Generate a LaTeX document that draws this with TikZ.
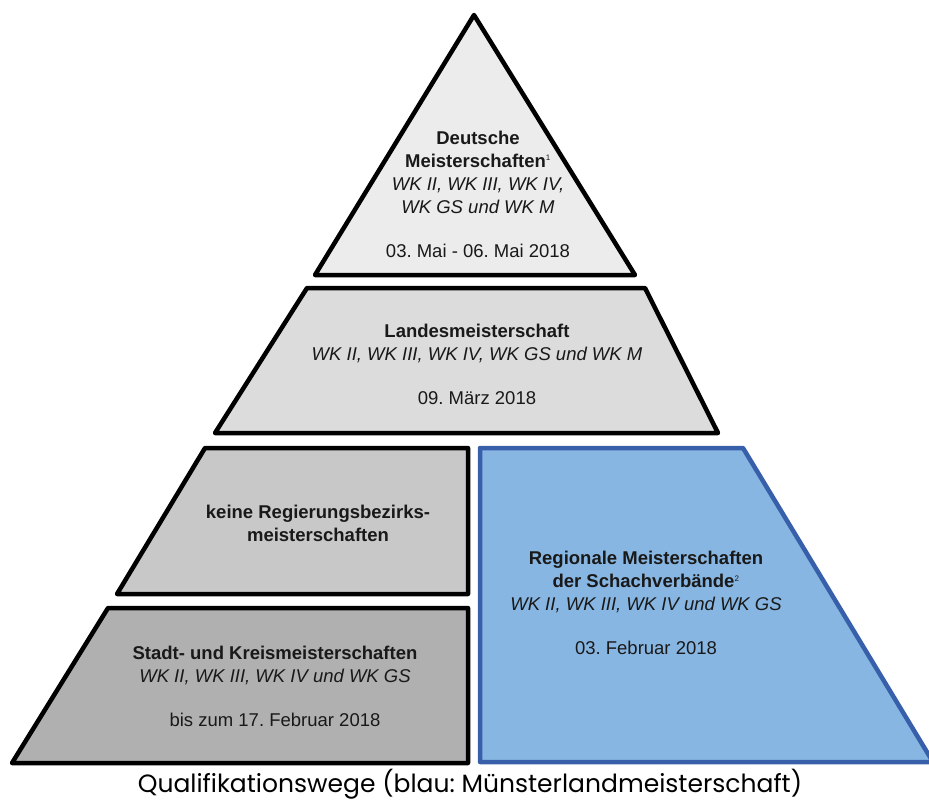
\documentclass[tikz,border=0pt]{standalone}
\usepackage{fontspec}
\setmainfont{Liberation Sans}
\newfontfamily\capfont{Poppins}
\frenchspacing
\definecolor{g1}{RGB}{236,236,236}
\definecolor{g2}{RGB}{220,220,220}
\definecolor{g3}{RGB}{200,200,200}
\definecolor{g4}{RGB}{176,176,176}
\definecolor{bfill}{RGB}{136,182,226}
\definecolor{bline}{RGB}{56,96,170}
\tikzset{
  level/.style={draw=black,line width=4.5pt,line join=round},
  lbl/.style={align=center,font=\fontsize{18.5}{23}\selectfont\frenchspacing,inner sep=0pt,text=black!90},
}
\newcommand{\fnmark}[1]{\textsuperscript{\fontsize{8}{8}\selectfont #1}}
\begin{document}
\begin{tikzpicture}[x=1pt,y=-1pt]
\useasboundingbox (0,0) rectangle (929,803);
% shapes
\path[level,fill=g1] (474,15) -- (635,275) -- (315,275) -- cycle;
\path[level,fill=g2] (307,288) -- (645,288) -- (718,433) -- (215,433) -- cycle;
\path[level,fill=g3] (205,448) -- (468,448) -- (468,594) -- (117,594) -- cycle;
\path[level,fill=g4] (108,608) -- (468,608) -- (468,763) -- (12,763) -- cycle;
\path[level,draw=bline,fill=bfill] (480,448) -- (743,448) -- (933,762) -- (480,762) -- cycle;
% texts
\node[lbl] (dm) at (478,194) {\textbf{Deutsche}\\\textbf{Meisterschaften}\fnmark{1}\\\textit{WK II, WK III, WK IV,}\\\textit{WK GS und WK M}\\[21pt]03. Mai - 06. Mai 2018};
\node[lbl] (lm) at (477,364) {\textbf{Landesmeisterschaft}\\\textit{WK II, WK III, WK IV, WK GS und WK M}\\[21pt]09. März 2018};
\node[lbl] (rb) at (318,523) {\textbf{keine Regierungsbezirks-}\\\textbf{meisterschaften}};
\node[lbl] (sk) at (275,686) {\textbf{Stadt- und Kreismeisterschaften}\\\textit{WK II, WK III, WK IV und WK GS}\\[21pt]bis zum 17. Februar 2018};
\node[lbl] (rm) at (646,603) {\textbf{Regionale Meisterschaften}\\\textbf{der Schachverbände}\fnmark{2}\\\textit{WK II, WK III, WK IV und WK GS}\\[21pt]03. Februar 2018};
\node[inner sep=0pt,font=\capfont\fontsize{25}{29}\selectfont] (cap) at (470,784) {Qualifikationswege (blau: Münsterlandmeisterschaft)};
\end{tikzpicture}
\end{document}
